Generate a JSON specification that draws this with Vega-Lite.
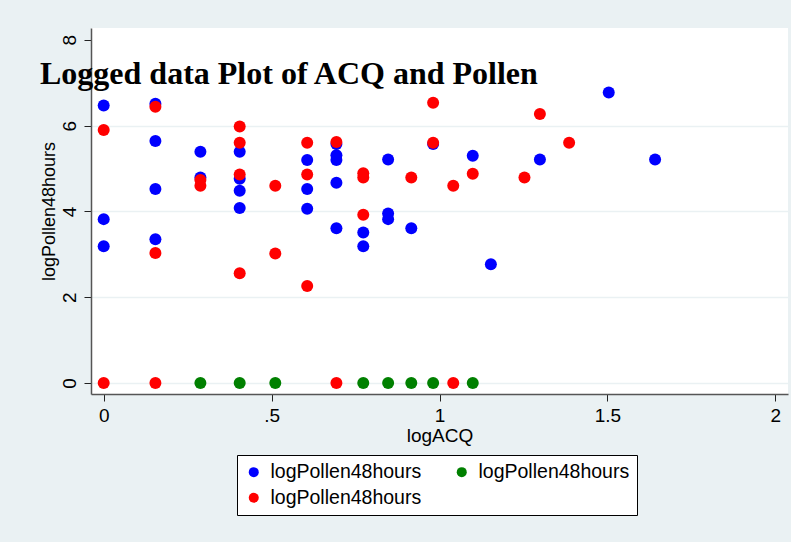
{
  "$schema": "https://vega.github.io/schema/vega-lite/v6.json",
  "width": 697,
  "height": 366,
  "autosize": "none",
  "padding": {"left": 91, "top": 28, "right": 3, "bottom": 148},
  "background": "#EAF1F3",
  "view": {"fill": "white", "stroke": null},
  "title": {
    "text": "Logged data Plot of ACQ and Pollen",
    "font": "Liberation Serif",
    "fontSize": 32,
    "fontWeight": "bold",
    "color": "black",
    "anchor": "start",
    "frame": "group",
    "baseline": "alphabetic",
    "offset": 0,
    "dx": -51,
    "dy": 88
  },
  "data": {
    "values": [
      {"series": "b", "logACQ": 0, "logPollen": 6.47},
      {"series": "b", "logACQ": 0, "logPollen": 3.82},
      {"series": "b", "logACQ": 0, "logPollen": 3.19},
      {"series": "b", "logACQ": 0.154, "logPollen": 6.51},
      {"series": "b", "logACQ": 0.154, "logPollen": 5.64},
      {"series": "b", "logACQ": 0.154, "logPollen": 4.52},
      {"series": "b", "logACQ": 0.154, "logPollen": 3.35},
      {"series": "b", "logACQ": 0.288, "logPollen": 5.39},
      {"series": "b", "logACQ": 0.288, "logPollen": 4.79},
      {"series": "b", "logACQ": 0.405, "logPollen": 5.39},
      {"series": "b", "logACQ": 0.405, "logPollen": 4.76},
      {"series": "b", "logACQ": 0.405, "logPollen": 4.48},
      {"series": "b", "logACQ": 0.405, "logPollen": 4.08},
      {"series": "b", "logACQ": 0.606, "logPollen": 5.2},
      {"series": "b", "logACQ": 0.606, "logPollen": 4.52},
      {"series": "b", "logACQ": 0.606, "logPollen": 4.06},
      {"series": "b", "logACQ": 0.693, "logPollen": 5.57},
      {"series": "b", "logACQ": 0.693, "logPollen": 5.31},
      {"series": "b", "logACQ": 0.693, "logPollen": 5.2},
      {"series": "b", "logACQ": 0.693, "logPollen": 4.67},
      {"series": "b", "logACQ": 0.693, "logPollen": 3.61},
      {"series": "b", "logACQ": 0.773, "logPollen": 3.51},
      {"series": "b", "logACQ": 0.773, "logPollen": 3.19},
      {"series": "b", "logACQ": 0.847, "logPollen": 5.21},
      {"series": "b", "logACQ": 0.847, "logPollen": 3.95},
      {"series": "b", "logACQ": 0.847, "logPollen": 3.82},
      {"series": "b", "logACQ": 0.916, "logPollen": 3.61},
      {"series": "b", "logACQ": 0.981, "logPollen": 5.57},
      {"series": "b", "logACQ": 1.099, "logPollen": 5.3},
      {"series": "b", "logACQ": 1.153, "logPollen": 2.77},
      {"series": "b", "logACQ": 1.299, "logPollen": 5.21},
      {"series": "b", "logACQ": 1.504, "logPollen": 6.77},
      {"series": "b", "logACQ": 1.642, "logPollen": 5.21},
      {"series": "g", "logACQ": 0.288, "logPollen": 0},
      {"series": "g", "logACQ": 0.405, "logPollen": 0},
      {"series": "g", "logACQ": 0.511, "logPollen": 0},
      {"series": "g", "logACQ": 0.773, "logPollen": 0},
      {"series": "g", "logACQ": 0.847, "logPollen": 0},
      {"series": "g", "logACQ": 0.916, "logPollen": 0},
      {"series": "g", "logACQ": 0.981, "logPollen": 0},
      {"series": "g", "logACQ": 1.099, "logPollen": 0},
      {"series": "r", "logACQ": 0, "logPollen": 5.9},
      {"series": "r", "logACQ": 0, "logPollen": 0},
      {"series": "r", "logACQ": 0.154, "logPollen": 6.44},
      {"series": "r", "logACQ": 0.154, "logPollen": 3.03},
      {"series": "r", "logACQ": 0.154, "logPollen": 0},
      {"series": "r", "logACQ": 0.288, "logPollen": 4.73},
      {"series": "r", "logACQ": 0.288, "logPollen": 4.6},
      {"series": "r", "logACQ": 0.405, "logPollen": 5.98},
      {"series": "r", "logACQ": 0.405, "logPollen": 5.6},
      {"series": "r", "logACQ": 0.405, "logPollen": 4.86},
      {"series": "r", "logACQ": 0.405, "logPollen": 2.56},
      {"series": "r", "logACQ": 0.511, "logPollen": 4.6},
      {"series": "r", "logACQ": 0.511, "logPollen": 3.02},
      {"series": "r", "logACQ": 0.606, "logPollen": 5.6},
      {"series": "r", "logACQ": 0.606, "logPollen": 4.86},
      {"series": "r", "logACQ": 0.606, "logPollen": 2.26},
      {"series": "r", "logACQ": 0.693, "logPollen": 5.62},
      {"series": "r", "logACQ": 0.693, "logPollen": 0},
      {"series": "r", "logACQ": 0.773, "logPollen": 4.89},
      {"series": "r", "logACQ": 0.773, "logPollen": 4.79},
      {"series": "r", "logACQ": 0.773, "logPollen": 3.92},
      {"series": "r", "logACQ": 0.916, "logPollen": 4.79},
      {"series": "r", "logACQ": 0.981, "logPollen": 6.53},
      {"series": "r", "logACQ": 0.981, "logPollen": 5.6},
      {"series": "r", "logACQ": 1.041, "logPollen": 4.6},
      {"series": "r", "logACQ": 1.041, "logPollen": 0},
      {"series": "r", "logACQ": 1.099, "logPollen": 4.88},
      {"series": "r", "logACQ": 1.253, "logPollen": 4.79},
      {"series": "r", "logACQ": 1.299, "logPollen": 6.27},
      {"series": "r", "logACQ": 1.386, "logPollen": 5.6}
    ]
  },
  "mark": {"type": "circle", "size": 144, "opacity": 1},
  "encoding": {
    "x": {
      "field": "logACQ",
      "type": "quantitative",
      "scale": {"domain": [-0.0378, 2.0378], "nice": false, "zero": false},
      "axis": {
        "title": "logACQ",
        "titleFont": "Liberation Sans",
        "titleFontSize": 19,
        "titleFontWeight": "normal",
        "titleColor": "black",
        "titlePadding": 1,
        "values": [0, 0.5, 1, 1.5, 2],
        "labelExpr": "replace(format(datum.value, '~g'), '0.', '.')",
        "labelFont": "Liberation Sans",
        "labelFontSize": 19,
        "labelColor": "black",
        "labelPadding": 5,
        "tickSize": 7,
        "tickColor": "#222222",
        "tickWidth": 1,
        "domainColor": "#555555",
        "domainWidth": 1.5,
        "grid": false
      }
    },
    "y": {
      "field": "logPollen",
      "type": "quantitative",
      "scale": {"domain": [-0.256, 8.275], "nice": false, "zero": false},
      "axis": {
        "title": "logPollen48hours",
        "titleFont": "Liberation Sans",
        "titleFontSize": 18,
        "titleFontWeight": "normal",
        "titleColor": "black",
        "titlePadding": 2,
        "values": [0, 2, 4, 6, 8],
        "labelAngle": -90,
        "labelAlign": "center",
        "labelBaseline": "alphabetic",
        "labelFont": "Liberation Sans",
        "labelFontSize": 19,
        "labelColor": "black",
        "labelPadding": 9,
        "tickSize": 7,
        "tickColor": "#222222",
        "tickWidth": 1,
        "domainColor": "#555555",
        "domainWidth": 1.5,
        "grid": true,
        "gridColor": "#EAF1F3",
        "gridWidth": 1.5,
        "gridOpacity": {"condition": {"test": "datum.value == 8", "value": 0}, "value": 1}
      }
    },
    "color": {
      "field": "series",
      "type": "nominal",
      "scale": {"domain": ["b", "r", "g"], "range": ["#0000FF", "#FF0000", "#008000"]},
      "legend": {
        "orient": "none",
        "legendX": 146,
        "legendY": 427,
        "title": null,
        "columns": 2,
        "labelExpr": "'logPollen48hours'",
        "labelFont": "Liberation Sans",
        "labelFontSize": 19.5,
        "labelColor": "black",
        "labelOffset": 7,
        "labelLimit": 0,
        "symbolType": "circle",
        "symbolSize": 100,
        "symbolStrokeWidth": 0,
        "symbolOpacity": 1,
        "fillColor": "white",
        "strokeColor": "black",
        "padding": 7,
        "columnPadding": 30,
        "rowPadding": 5
      }
    }
  }
}
